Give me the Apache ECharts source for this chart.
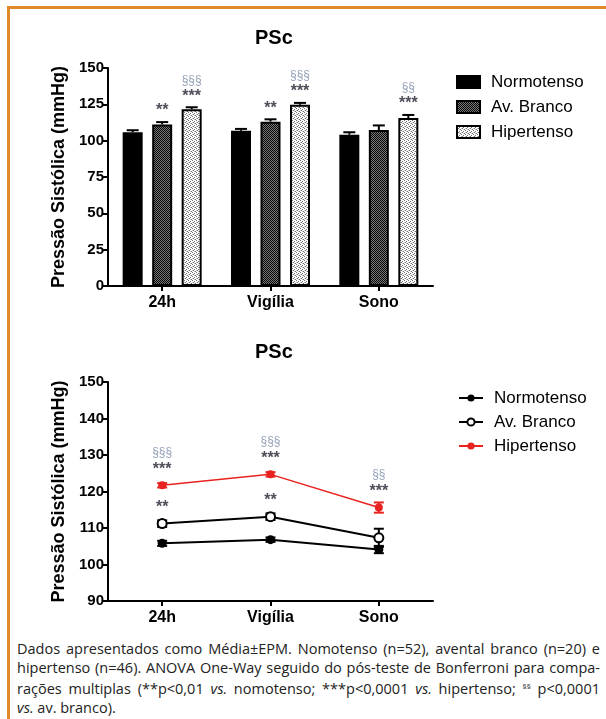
<!DOCTYPE html>
<html>
<head>
<meta charset="utf-8">
<script src="https://cdn.jsdelivr.net/npm/echarts@6/dist/echarts.min.js"></script>
<style>
  html, body { margin: 0; padding: 0; background: #fff; }
  #wrap { position: relative; width: 606px; height: 719px; overflow: hidden; }
  #chartTop { position: absolute; left: 0; top: 0; width: 606px; height: 320px; }
  #chartBot { position: absolute; left: 0; top: 320px; width: 606px; height: 310px; }
  #bTop { position: absolute; left: 8px; top: 6px; width: 598px; height: 3px; background: #DE8A2C; }
  #bLeft { position: absolute; left: 7px; top: 6px; width: 3px; height: 713px; background: #DE8A2C; }
  #cap { position: absolute; left: 17px; top: 640px; width: 583px; font-family: "Open Sans", "Lato", sans-serif; font-size: 14.5px; line-height: 18.7px; color: #222; }
  #cap div.j { text-align: justify; text-align-last: justify; white-space: nowrap; }
  #cap sup { font-size: 8px; vertical-align: 5px; }
</style>
</head>
<body>
<div id="wrap">
  <div id="bTop"></div>
  <div id="bLeft"></div>
  <div id="chartTop"></div>
  <div id="chartBot"></div>
  <div id="cap">
    <div class="j">Dados apresentados como Média±EPM. Nomotenso (n=52), avental branco (n=20) e</div>
    <div class="j">hipertenso (n=46). ANOVA One-Way seguido do pós-teste de Bonferroni para compa-</div>
    <div class="j">rações multiplas (**p&lt;0,01 <i>vs.</i> nomotenso; ***p&lt;0,0001 <i>vs.</i> hipertenso; <sup>§§</sup> p&lt;0,0001</div>
    <div><i>vs.</i> av. branco).</div>
  </div>
</div>
<script>
// ---- data ----
const categories = ['24h', 'Vigília', 'Sono'];
const seriesNames = ['Normotenso', 'Av. Branco', 'Hipertenso'];
const normotenso = [105.8, 106.8, 104.1];
const avBranco   = [111.2, 113.1, 107.3];
const hipertenso = [121.7, 124.7, 115.6];
const errNormo = [0.7, 0.6, 1.0];
const errAvB   = [0.9, 0.9, 2.5];
const errHiper = [0.6, 0.6, 1.4];
const sigAvBvsN = ['**', '**', ''];
const sigHvsN   = ['***', '***', '***'];
const sigHvsAvB = ['§§§', '§§§', '§§'];
const barTicks = [0, 25, 50, 75, 100, 125, 150];
const lineTicks = [90, 100, 110, 120, 130, 140, 150];

// ---- styles ----
const FONT = '"Liberation Sans", Arial, sans-serif';
const RED = '#E8231F';
const STAR_COLOR = '#222230';
const SEC_COLOR = '#7a8aa6';
const BAR_W = 20, BAR_GAP = 0.475;
const BAR_STEP = BAR_W * (1 + BAR_GAP);

function pattern(kind) {
  const c = document.createElement('canvas');
  c.width = 4; c.height = 4;
  const g = c.getContext('2d');
  if (kind === 'dark') {
    for (let y = 0; y < 4; y++) for (let x = 0; x < 4; x++) {
      g.fillStyle = ((x + y) % 2 === 0) ? '#050505' : '#7a7a7a';
      g.fillRect(x, y, 1, 1);
    }
  } else {
    g.fillStyle = '#fff'; g.fillRect(0, 0, 4, 4);
    g.fillStyle = '#707070';
    [[0,0],[2,1],[1,2],[3,3]].forEach(p => g.fillRect(p[0], p[1], 1, 1));
    g.fillStyle = '#c8c8c8';
    [[2,3],[0,2]].forEach(p => g.fillRect(p[0], p[1], 1, 1));
  }
  return { image: c, repeat: 'repeat' };
}

function yAxisCommon(min, max, interval) {
  return {
    type: 'value', min: min, max: max, interval: interval,
    name: 'Pressão Sistólica (mmHg)', nameLocation: 'middle', nameGap: 40, nameRotate: 90,
    nameTextStyle: { fontFamily: FONT, fontWeight: 'bold', fontSize: 18, color: '#000' },
    axisLine: { show: true, lineStyle: { color: '#000', width: 2 } },
    axisTick: { show: true, length: 6, lineStyle: { color: '#000', width: 2 } },
    axisLabel: { fontFamily: FONT, fontWeight: 'bold', fontSize: 15, color: '#000', margin: 4 },
    splitLine: { show: false }
  };
}
function xAxisCommon() {
  return {
    type: 'category', data: categories, boundaryGap: true,
    axisLine: { show: true, lineStyle: { color: '#000', width: 2 } },
    axisTick: { show: true, alignWithLabel: true, length: 5, lineStyle: { color: '#000', width: 2 } },
    axisLabel: { fontFamily: FONT, fontWeight: 'bold', fontSize: 16, color: '#000', margin: 9 },
    splitLine: { show: false }
  };
}
function annot(name, points, color, fontSize, weight) {
  return {
    type: 'scatter', name: name, silent: true, z: 10,
    symbolSize: 1, itemStyle: { color: 'rgba(0,0,0,0)' },
    emphasis: { disabled: true },
    data: points.filter(p => p.text).map(p => ({
      value: [p.i, p.v],
      label: { show: true, position: 'inside', formatter: p.text, offset: [p.dx, p.dy],
               color: color, fontFamily: FONT, fontSize: fontSize, fontWeight: weight }
    }))
  };
}

// ================= TOP: bar chart =================
const chartA = echarts.init(document.getElementById('chartTop'), null, { renderer: 'canvas' });
const barColors = ['#000', pattern('dark'), pattern('light')];
const barVals = [normotenso, avBranco, hipertenso];
const barErrs = [errNormo, errAvB, errHiper];

const barSeries = seriesNames.map((n, k) => ({
  type: 'bar', name: n, data: barVals[k], barWidth: BAR_W, barGap: (BAR_GAP * 100) + '%',
  itemStyle: { color: barColors[k], borderColor: '#000', borderWidth: 2 },
  emphasis: { disabled: true }
}));
const barErrData = [];
barVals.forEach((arr, k) => arr.forEach((v, i) => barErrData.push([i, v, barErrs[k][i], k - 1])));
const barErrSeries = {
  type: 'custom', name: 'err', silent: true, z: 5,
  data: barErrData,
  renderItem: function (params, api) {
    const i = api.value(0), v = api.value(1), e = api.value(2), k = api.value(3);
    const p = api.coord([i, v]); const h = api.coord([i, v + e]);
    const cx = p[0] + k * BAR_STEP;
    return { type: 'group', children: [
      { type: 'line', shape: { x1: cx, y1: p[1], x2: cx, y2: h[1] - 1 }, style: { stroke: '#000', lineWidth: 2 } },
      { type: 'line', shape: { x1: cx - 6, y1: h[1] - 1, x2: cx + 6, y2: h[1] - 1 }, style: { stroke: '#000', lineWidth: 2 } }
    ]};
  }
};
const barAnnot = [];
const barSec = [];
categories.forEach((c, i) => {
  barAnnot.push({ i: i, v: avBranco[i] + errAvB[i], text: sigAvBvsN[i], dx: 0, dy: -12 });
  barAnnot.push({ i: i, v: hipertenso[i] + errHiper[i], text: sigHvsN[i], dx: BAR_STEP, dy: -12 });
  barSec.push({ i: i, v: hipertenso[i] + errHiper[i], text: sigHvsAvB[i], dx: BAR_STEP, dy: -28 });
});

chartA.setOption({
  animation: false,
  title: { text: 'PSc', left: 250, top: 23, textStyle: { fontFamily: FONT, fontWeight: 'bold', fontSize: 20, color: '#000' } },
  legend: {
    data: seriesNames, orient: 'vertical', left: 451, top: 68,
    itemWidth: 23, itemHeight: 12, itemGap: 7, icon: 'rect',
    textStyle: { fontFamily: FONT, fontSize: 17, color: '#000', lineHeight: 18, padding: [0, 0, 0, 6] },
    selectedMode: false
  },
  grid: { left: 108, top: 68, width: 325, height: 218 },
  xAxis: xAxisCommon(),
  yAxis: yAxisCommon(barTicks[0], barTicks[barTicks.length - 1], barTicks[1] - barTicks[0]),
  series: barSeries.concat([barErrSeries,
    annot('stars', barAnnot, STAR_COLOR, 16, 'bold'),
    annot('sec', barSec, SEC_COLOR, 12, 'normal')])
});

// ================= BOTTOM: line chart =================
const chartB = echarts.init(document.getElementById('chartBot'), null, { renderer: 'canvas' });
const lineColors = ['#000', '#000', RED];
const lineVals = [normotenso, avBranco, hipertenso];
const lineErrs = [errNormo, errAvB, errHiper];
const lineSeries = seriesNames.map((n, k) => ({
  type: 'line', name: n, data: lineVals[k],
  symbol: k === 1 ? 'emptyCircle' : 'circle', symbolSize: k === 2 ? 8 : 9,
  itemStyle: { color: lineColors[k], borderColor: lineColors[k], borderWidth: k === 1 ? 2 : 0 },
  lineStyle: { color: lineColors[k], width: k === 2 ? 1.5 : 2 },
  emphasis: { disabled: true }, z: 3 + k
}));
const lineErrSeries = lineVals.map((arr, k) => ({
  type: 'custom', name: 'err' + k, silent: true, z: 2 + k,
  data: arr.map((v, i) => [i, v, lineErrs[k][i]]),
  renderItem: function (params, api) {
    const i = api.value(0), v = api.value(1), e = api.value(2);
    const h = api.coord([i, v + e]); const l = api.coord([i, v - e]);
    const cx = h[0];
    const st = { stroke: lineColors[k], lineWidth: 2 };
    return { type: 'group', children: [
      { type: 'line', shape: { x1: cx, y1: h[1], x2: cx, y2: l[1] }, style: st },
      { type: 'line', shape: { x1: cx - 5, y1: h[1], x2: cx + 5, y2: h[1] }, style: st },
      { type: 'line', shape: { x1: cx - 5, y1: l[1], x2: cx + 5, y2: l[1] }, style: st }
    ]};
  }
}));
const lineAnnot = [];
const lineSec = [];
categories.forEach((c, i) => {
  lineAnnot.push({ i: i, v: avBranco[i], text: sigAvBvsN[i], dx: 0, dy: -16 });
  lineAnnot.push({ i: i, v: hipertenso[i], text: sigHvsN[i], dx: 0, dy: -16 });
  lineSec.push({ i: i, v: hipertenso[i], text: sigHvsAvB[i], dx: 0, dy: -33 });
});

chartB.setOption({
  animation: false,
  title: { text: 'PSc', left: 250, top: 17, textStyle: { fontFamily: FONT, fontWeight: 'bold', fontSize: 20, color: '#000' } },
  legend: {
    data: seriesNames, orient: 'vertical', left: 453, top: 64,
    itemWidth: 24, itemHeight: 9, itemGap: 6,
    textStyle: { fontFamily: FONT, fontSize: 17, color: '#000', lineHeight: 18, padding: [0, 0, 0, 6] },
    selectedMode: false
  },
  grid: { left: 108, top: 62, width: 325, height: 219 },
  xAxis: xAxisCommon(),
  yAxis: yAxisCommon(lineTicks[0], lineTicks[lineTicks.length - 1], lineTicks[1] - lineTicks[0]),
  series: lineSeries.concat(lineErrSeries, [
    annot('stars', lineAnnot, STAR_COLOR, 16, 'bold'),
    annot('sec', lineSec, SEC_COLOR, 12, 'normal')])
});
</script>
</body>
</html>
